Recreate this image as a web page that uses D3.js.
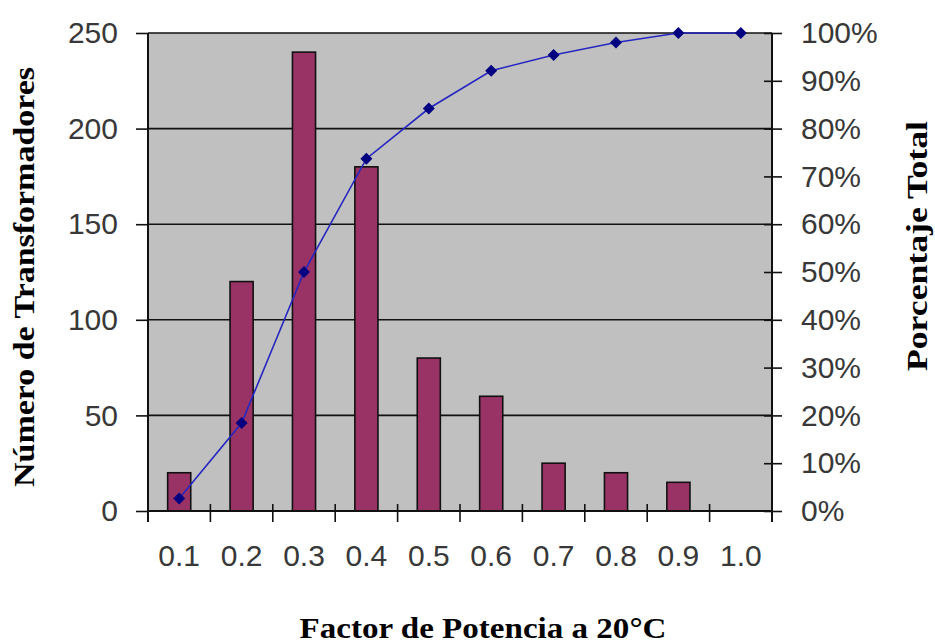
<!DOCTYPE html>
<html>
<head>
<meta charset="utf-8">
<script src="https://cdn.jsdelivr.net/npm/d3@7"></script>
<style>
  html, body { margin: 0; padding: 0; background: #fff; }
  svg { display: block; }
</style>
</head>
<body>
<svg id="chart" width="935" height="644"></svg>
<script>
// Power factor classes (x axis categories)
const categories = ["0.1", "0.2", "0.3", "0.4", "0.5", "0.6", "0.7", "0.8", "0.9", "1.0"];
// Number of transformers in each class
const counts = [20, 120, 240, 180, 80, 60, 25, 20, 15, 0];
// Cumulative share of transformers (percent)
const cumulativePct = [2.6, 18.4, 50, 73.7, 84.2, 92.1, 95.4, 98.0, 100, 100];
// Axis ticks
const countTicks = [0, 50, 100, 150, 200, 250];
const pctTicks = [0, 10, 20, 30, 40, 50, 60, 70, 80, 90, 100];

const svg = d3.select("#chart");
const plot = { left: 148, right: 772, top: 33, bottom: 511 };

const x = d3.scaleBand().domain(categories).range([plot.left, plot.right]).paddingInner(0).paddingOuter(0);
const yCount = d3.scaleLinear().domain([0, 250]).range([plot.bottom, plot.top]);
const yPct = d3.scaleLinear().domain([0, 100]).range([plot.bottom, plot.top]);

// Plot area background
svg.append("rect")
  .attr("x", plot.left).attr("y", plot.top)
  .attr("width", plot.right - plot.left).attr("height", plot.bottom - plot.top)
  .attr("fill", "#c0c0c0");

// Horizontal gridlines on the count axis
svg.append("g").selectAll("line")
  .data(countTicks.filter(d => d > 0))
  .join("line")
  .attr("x1", plot.left).attr("x2", plot.right)
  .attr("y1", d => yCount(d)).attr("y2", d => yCount(d))
  .attr("stroke", "#111").attr("stroke-width", 1.6);

// Bars
const bw = x.bandwidth() * 0.37;
svg.append("g").selectAll("rect")
  .data(categories.map((c, i) => ({ c, v: counts[i] })).filter(d => d.v > 0))
  .join("rect")
  .attr("x", d => x(d.c) + x.bandwidth() / 2 - bw / 2)
  .attr("y", d => yCount(d.v))
  .attr("width", bw)
  .attr("height", d => yCount(0) - yCount(d.v))
  .attr("fill", "#993366")
  .attr("stroke", "#111").attr("stroke-width", 1.6);

const tickFont = "'Liberation Sans', Arial, sans-serif";

// Left axis (counts)
const gLeft = svg.append("g")
  .attr("transform", `translate(${plot.left},0)`)
  .call(d3.axisLeft(yCount).tickValues(countTicks).tickSize(12).tickPadding(18).tickSizeOuter(0));
gLeft.select(".domain").attr("stroke", "#111").attr("stroke-width", 2)
  .attr("d", `M0,${plot.top}V${plot.bottom + 11}`);

// Right axis (cumulative percent)
const gRight = svg.append("g")
  .attr("transform", `translate(${plot.right},0)`)
  .call(d3.axisRight(yPct).tickValues(pctTicks).tickFormat(d => d + "%").tickSize(10).tickPadding(19).tickSizeOuter(0));
gRight.select(".domain").attr("stroke", "#111").attr("stroke-width", 2)
  .attr("d", `M0,${plot.top}V${plot.bottom + 11}`);
gRight.selectAll(".tick line").attr("x1", -8);

// Bottom axis: ticks on category boundaries, labels centred in each category
const gBottom = svg.append("g")
  .attr("transform", `translate(0,${plot.bottom})`)
  .call(d3.axisBottom(x).tickSize(0).tickPadding(34).tickSizeOuter(0));
gBottom.select(".domain").attr("stroke", "#111").attr("stroke-width", 2)
  .attr("d", `M${plot.left},0H${plot.right}`);
gBottom.selectAll(".tick line").remove();
svg.append("g").selectAll("line")
  .data(categories.slice(1))
  .join("line")
  .attr("x1", d => x(d)).attr("x2", d => x(d))
  .attr("y1", plot.bottom - 7).attr("y2", plot.bottom + 11)
  .attr("stroke", "#111").attr("stroke-width", 1.6);

[gLeft, gRight, gBottom].forEach(g => {
  g.selectAll(".tick text")
    .attr("font-family", tickFont)
    .attr("font-size", 30)
    .attr("fill", "#383838");
  g.selectAll(".tick line").attr("stroke", "#111").attr("stroke-width", 1.6);
});

// Cumulative percentage line with diamond markers
const cx = c => x(c) + x.bandwidth() / 2;
const line = d3.line().x(d => cx(d.c)).y(d => yPct(d.p));
const pts = categories.map((c, i) => ({ c, p: cumulativePct[i] }));
svg.append("path")
  .datum(pts)
  .attr("d", line)
  .attr("fill", "none")
  .attr("stroke", "#2626c0").attr("stroke-width", 1.6);
svg.append("g").selectAll("path")
  .data(pts)
  .join("path")
  .attr("d", d3.symbol(d3.symbolSquare, 72))
  .attr("transform", d => `translate(${cx(d.c)},${yPct(d.p)}) rotate(45)`)
  .attr("fill", "#000080");

// Axis titles
const titleFont = "'Liberation Serif', 'Times New Roman', serif";
svg.append("text")
  .attr("transform", "translate(34,277) rotate(-90)")
  .attr("text-anchor", "middle")
  .attr("font-family", titleFont).attr("font-weight", "bold").attr("font-size", 29)
  .attr("textLength", 420).attr("lengthAdjust", "spacingAndGlyphs")
  .attr("fill", "#000")
  .text("Número de Transformadores");

svg.append("text")
  .attr("transform", "translate(927,246) rotate(-90)")
  .attr("text-anchor", "middle")
  .attr("font-family", titleFont).attr("font-weight", "bold").attr("font-size", 29)
  .attr("textLength", 250).attr("lengthAdjust", "spacingAndGlyphs")
  .attr("fill", "#000")
  .text("Porcentaje Total");

svg.append("text")
  .attr("x", 483).attr("y", 638)
  .attr("text-anchor", "middle")
  .attr("font-family", titleFont).attr("font-weight", "bold").attr("font-size", 29)
  .attr("textLength", 367).attr("lengthAdjust", "spacingAndGlyphs")
  .attr("fill", "#000")
  .text("Factor de Potencia a 20°C");
</script>
</body>
</html>
